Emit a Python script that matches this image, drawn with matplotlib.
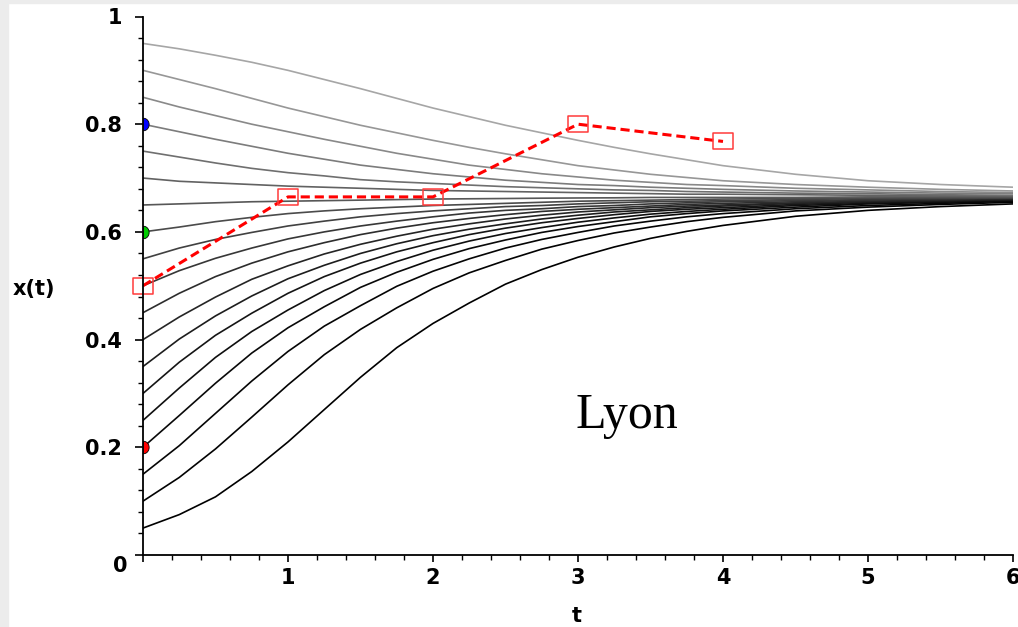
import numpy as np
import matplotlib
matplotlib.use("Agg")
import matplotlib.pyplot as plt
from matplotlib.path import Path
from matplotlib.patches import Rectangle

t_grid = [0, 0.25, 0.5, 0.75, 1, 1.25, 1.5, 1.75, 2, 2.25, 2.5, 2.75,
          3, 3.25, 3.5, 3.75, 4, 4.5, 5, 5.5, 6]

# starting values x(0) of the solution curves
x_start = [0.05, 0.10, 0.15, 0.20, 0.25, 0.30, 0.35, 0.40, 0.45, 0.50,
           0.55, 0.60, 0.65, 0.70, 0.75, 0.80, 0.85, 0.90, 0.95]

# x(t) for each curve on t_grid (bottom curve first)
curves = [
    [0.050, 0.075, 0.108, 0.155, 0.210, 0.270, 0.330, 0.385, 0.430, 0.468, 0.503, 0.530, 0.553, 0.572, 0.588, 0.601, 0.612, 0.629, 0.640, 0.647, 0.652],
    [0.100, 0.144, 0.197, 0.256, 0.316, 0.372, 0.419, 0.459, 0.495, 0.524, 0.547, 0.568, 0.584, 0.598, 0.609, 0.619, 0.627, 0.639, 0.646, 0.651, 0.655],
    [0.150, 0.203, 0.263, 0.323, 0.378, 0.425, 0.463, 0.499, 0.527, 0.550, 0.570, 0.586, 0.599, 0.611, 0.620, 0.628, 0.634, 0.643, 0.649, 0.653, 0.657],
    [0.200, 0.259, 0.319, 0.375, 0.422, 0.461, 0.497, 0.525, 0.549, 0.569, 0.585, 0.599, 0.610, 0.619, 0.628, 0.634, 0.639, 0.646, 0.652, 0.655, 0.658],
    [0.250, 0.310, 0.367, 0.415, 0.455, 0.491, 0.521, 0.545, 0.566, 0.583, 0.597, 0.608, 0.618, 0.626, 0.633, 0.638, 0.642, 0.649, 0.653, 0.656, 0.659],
    [0.300, 0.358, 0.408, 0.449, 0.486, 0.517, 0.542, 0.563, 0.580, 0.595, 0.607, 0.617, 0.625, 0.632, 0.638, 0.642, 0.645, 0.651, 0.655, 0.657, 0.660],
    [0.350, 0.401, 0.444, 0.481, 0.513, 0.538, 0.560, 0.578, 0.593, 0.605, 0.615, 0.624, 0.631, 0.637, 0.641, 0.645, 0.648, 0.653, 0.656, 0.658, 0.660],
    [0.400, 0.442, 0.479, 0.512, 0.537, 0.559, 0.577, 0.592, 0.605, 0.615, 0.624, 0.631, 0.637, 0.641, 0.645, 0.648, 0.650, 0.654, 0.657, 0.659, 0.661],
    [0.450, 0.486, 0.517, 0.542, 0.563, 0.580, 0.595, 0.607, 0.617, 0.625, 0.632, 0.638, 0.642, 0.645, 0.648, 0.651, 0.653, 0.656, 0.659, 0.660, 0.662],
    [0.500, 0.528, 0.551, 0.570, 0.587, 0.600, 0.611, 0.620, 0.628, 0.635, 0.640, 0.643, 0.647, 0.649, 0.652, 0.654, 0.656, 0.658, 0.660, 0.662, 0.663],
    [0.550, 0.570, 0.586, 0.599, 0.611, 0.620, 0.628, 0.634, 0.639, 0.643, 0.647, 0.649, 0.652, 0.654, 0.656, 0.657, 0.658, 0.660, 0.662, 0.662, 0.663],
    [0.600, 0.609, 0.619, 0.627, 0.634, 0.639, 0.643, 0.646, 0.649, 0.651, 0.653, 0.655, 0.657, 0.658, 0.659, 0.660, 0.661, 0.662, 0.663, 0.6635, 0.664],
    [0.650, 0.652, 0.654, 0.656, 0.657, 0.658, 0.659, 0.660, 0.661, 0.6615, 0.662, 0.6626, 0.663, 0.6633, 0.664, 0.664, 0.664, 0.664, 0.665, 0.665, 0.665],
    [0.700, 0.694, 0.691, 0.688, 0.685, 0.683, 0.681, 0.679, 0.677, 0.676, 0.675, 0.674, 0.673, 0.672, 0.671, 0.670, 0.670, 0.669, 0.668, 0.667, 0.667],
    [0.750, 0.739, 0.728, 0.718, 0.710, 0.704, 0.697, 0.693, 0.690, 0.687, 0.684, 0.682, 0.680, 0.678, 0.677, 0.675, 0.674, 0.672, 0.671, 0.669, 0.668],
    [0.800, 0.786, 0.772, 0.759, 0.746, 0.735, 0.724, 0.716, 0.708, 0.702, 0.696, 0.692, 0.688, 0.686, 0.683, 0.681, 0.679, 0.676, 0.674, 0.672, 0.671],
    [0.850, 0.832, 0.816, 0.800, 0.786, 0.772, 0.759, 0.746, 0.735, 0.724, 0.716, 0.708, 0.702, 0.696, 0.692, 0.688, 0.686, 0.681, 0.678, 0.675, 0.673],
    [0.900, 0.883, 0.866, 0.848, 0.830, 0.814, 0.798, 0.784, 0.770, 0.757, 0.745, 0.734, 0.723, 0.715, 0.707, 0.701, 0.695, 0.688, 0.683, 0.679, 0.676],
    [0.950, 0.940, 0.928, 0.915, 0.900, 0.883, 0.866, 0.848, 0.830, 0.814, 0.798, 0.784, 0.770, 0.757, 0.745, 0.734, 0.723, 0.707, 0.695, 0.688, 0.683],
]

# observed data (red dashed line with boxes)
obs_t = [0, 1, 2, 3, 4]
obs_x = [0.50, 0.665, 0.665, 0.80, 0.768]

# coloured starting points
dot_x = [0.8, 0.6, 0.2]
dot_colors = ["#0000ff", "#00cc00", "#ff0000"]

yticks = [0, 0.2, 0.4, 0.6, 0.8, 1]
ytick_labels = ["", "0.2", "0.4", "0.6", "0.8", "1"]
xticks = [0, 1, 2, 3, 4, 5, 6]
xtick_labels = ["", "1", "2", "3", "4", "5", "6"]

W, H = 1018, 627
fig = plt.figure(figsize=(W / 100, H / 100), dpi=100)
fig.patch.set_facecolor("white")
# light frame strips of the original screenshot
fig.patches.append(Rectangle((0, 0), 8 / W, 1, transform=fig.transFigure,
                             color="#ececec", zorder=0))
fig.patches.append(Rectangle((0, 1 - 3 / H), 1, 3 / H, transform=fig.transFigure,
                             color="#ececec", zorder=0))

ax = fig.add_axes([143 / W, 1 - 555 / H, (1013 - 143) / W, (555 - 16.5) / H])

n = len(curves)
for i, (x0, vals) in enumerate(zip(x_start, curves)):
    g = 0.65 * (i / (n - 1)) ** 1.6
    ax.plot(t_grid, vals, color=(g, g, g), lw=1.2, zorder=2)

ax.plot(obs_t, obs_x, color="#ff0000", lw=2.2, dashes=(3, 1.6), zorder=4)
box = Path([(-1, -0.8), (1, -0.8), (1, 0.8), (-1, 0.8), (-1, -0.8)], closed=True)
ax.plot(obs_t, obs_x, ls="none", marker=box, ms=15, mfc="none",
        mec="#ff3a3a", mew=1.1, zorder=5, clip_on=False)

theta = np.linspace(-np.pi / 2, np.pi / 2, 40)
half = np.column_stack([0.9 * np.cos(theta), np.sin(theta)])
dmark = Path(np.vstack([half, half[:1]]), closed=True)
for v, c in zip(dot_x, dot_colors):
    ax.plot([0], [v], ls="none", marker=dmark, ms=9, mfc=c, mec="black",
            mew=0.6, zorder=6, clip_on=False)

ax.set_xlim(0, 6)
ax.set_ylim(0, 1)
for s in ("top", "right"):
    ax.spines[s].set_visible(False)
for s in ("left", "bottom"):
    ax.spines[s].set_linewidth(1.3)
    ax.spines[s].set_zorder(7)

ax.set_xticks(xticks)
ax.set_xticklabels(xtick_labels, fontweight="bold", fontsize=15, family="DejaVu Sans")
ax.set_yticks(yticks)
ax.set_yticklabels(ytick_labels, fontweight="bold", fontsize=15, family="DejaVu Sans")
ax.set_xticks(np.arange(0, 6.01, 0.2), minor=True)
ax.set_yticks(np.arange(0, 1.001, 0.04), minor=True)
ax.tick_params(which="major", direction="out", length=5, width=1.2)
ax.tick_params(axis="y", which="major", length=6, pad=9)
ax.tick_params(axis="x", which="major", pad=4.5)
ax.tick_params(which="minor", direction="out", length=3.5, width=1)

ax.annotate("0", xy=(0, 0), xytext=(-23, -11.5), textcoords="offset pixels",
            ha="center", va="center", fontsize=15, fontweight="bold")

fig.text(13 / W, 1 - 289 / H, "x(t)", ha="left", va="center",
         fontsize=15, fontweight="bold")
fig.text(577 / W, 1 - 616 / H, "t", ha="center", va="center",
         fontsize=15, fontweight="bold")

ax.text(2.98, 0.235, "Lyon", family="Liberation Serif", fontsize=36,
        ha="left", va="baseline")

fig.savefig("out.png", dpi=100)
